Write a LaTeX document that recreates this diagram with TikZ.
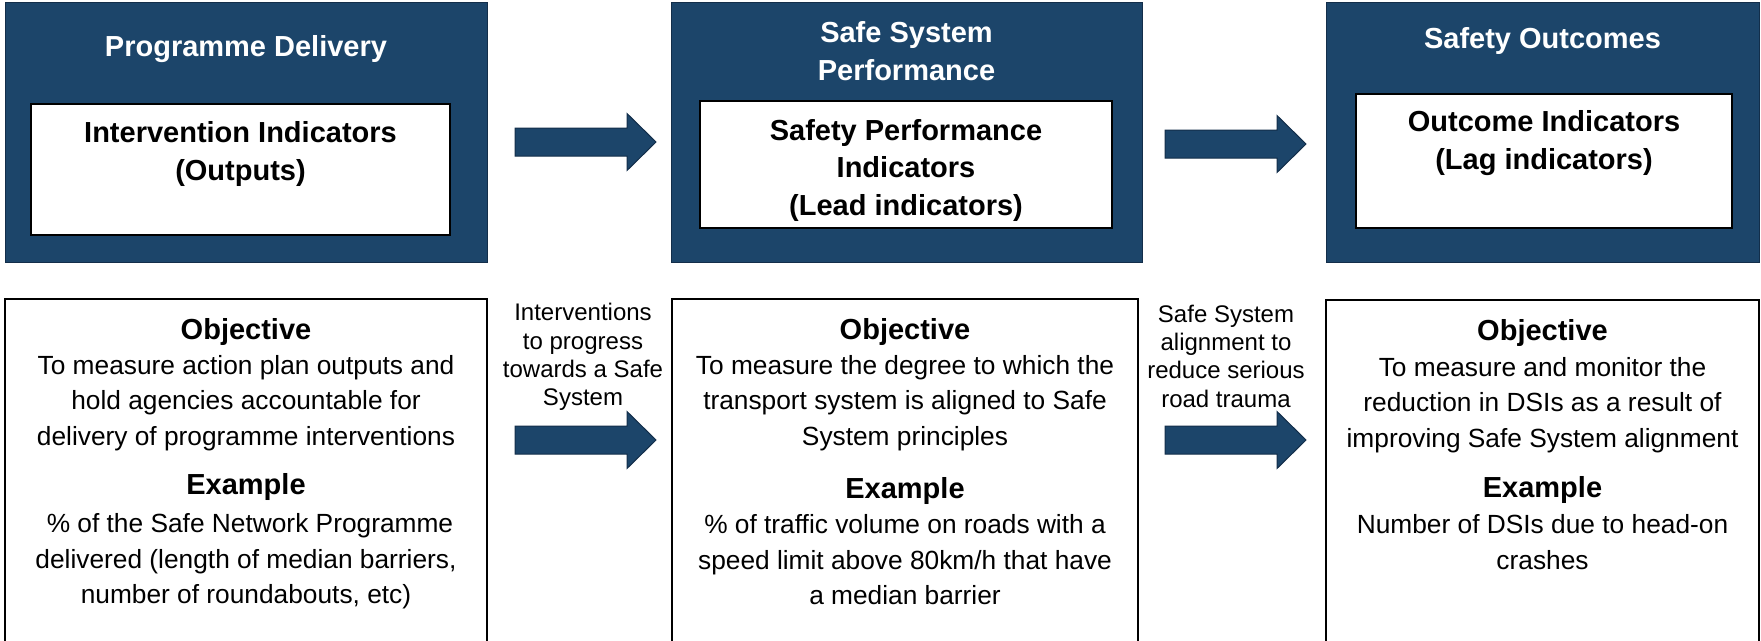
\documentclass[tikz,border=0pt]{standalone}
\usepackage{fontspec}
\setmainfont{Liberation Sans}
\usetikzlibrary{positioning}
\definecolor{navy}{RGB}{28,69,106}
\definecolor{navyedge}{RGB}{19,46,74}

\begin{document}
\begin{tikzpicture}[x=1pt,y=-1pt,
  headbox/.style={draw=navyedge, fill=navy, line width=1, inner sep=0},
  indbox/.style={draw=black, fill=white, line width=1.5, inner sep=0},
  objbox/.style={draw=black, line width=1.5, inner sep=0},
  headtext/.style={text=white, font=\bfseries\fontsize{29}{38}\selectfont, align=center, inner sep=0},
  indtext/.style={font=\bfseries\fontsize{29}{37.5}\selectfont, align=center, inner sep=0},
  subhead/.style={font=\bfseries\fontsize{29}{35}\selectfont, inner sep=0},
  bodytext/.style={font=\fontsize{26.3}{35.5}\selectfont, align=center, inner sep=0},
  steptext/.style={font=\fontsize{24}{28.3}\selectfont, align=center, inner sep=0},
  arrowfill/.style={fill=navy, draw=navyedge, line width=1}]
\useasboundingbox (0,0) rectangle (1761,640);

% top row
\node[headbox, minimum width=482, minimum height=260] (pd) at (246,132) {};
\node[headtext] (pdt) at (246,49) {Programme Delivery};
\node[indbox, minimum width=419, minimum height=131] (pdi) at (240.5,169.5) {};
\node[indtext] (pdit) at (240.5,154) {Intervention Indicators\\(Outputs)};

\node[headbox, minimum width=471, minimum height=260] (ssp) at (906.5,132) {};
\node[headtext] (sspt) at (906.5,51) {Safe System\\Performance};
\node[indbox, minimum width=412, minimum height=127] (sspi) at (906,164.5) {};
\node[indtext] (sspit) at (906,170) {Safety Performance\\Indicators\\(Lead indicators)};

\node[headbox, minimum width=433, minimum height=260] (so) at (1542.5,132) {};
\node[headtext] (sot) at (1542.5,41) {Safety Outcomes};
\node[indbox, minimum width=376, minimum height=134] (soi) at (1544,161) {};
\node[indtext] (soit) at (1544,143) {Outcome Indicators\\(Lag indicators)};

% block arrows
\coordinate (ta1) at (515,142);
\coordinate (ta2) at (1165,144);
\coordinate (ba1) at (515,440);
\coordinate (ba2) at (1165,440);
\draw[arrowfill] (ta1) ++(0,-14) -- ++(112,0) -- ++(0,-14.5) -- ++(29,28.5) -- ++(-29,28.5) -- ++(0,-14.5) -- ++(-112,0) -- cycle;
\draw[arrowfill] (ta2) ++(0,-14) -- ++(112,0) -- ++(0,-14.5) -- ++(29,28.5) -- ++(-29,28.5) -- ++(0,-14.5) -- ++(-112,0) -- cycle;
\draw[arrowfill] (ba1) ++(0,-14) -- ++(112,0) -- ++(0,-14.5) -- ++(29,28.5) -- ++(-29,28.5) -- ++(0,-14.5) -- ++(-112,0) -- cycle;
\draw[arrowfill] (ba2) ++(0,-14) -- ++(112,0) -- ++(0,-14.5) -- ++(29,28.5) -- ++(-29,28.5) -- ++(0,-14.5) -- ++(-112,0) -- cycle;

\node[steptext] (lab1) at (583,357) {Interventions\\to progress\\towards a Safe\\System};
\node[steptext] (lab2) at (1226,356) {Safe System\\alignment to\\reduce serious\\road trauma};

% bottom row
\node[objbox, minimum width=482, minimum height=421] (pdo) at (246,509.5) {};
\node[subhead] (pdh1) at (246,332) {Objective};
\node[bodytext] (pdb1) at (246,403) {To measure action plan outputs and\\hold agencies accountable for\\delivery of programme interventions};
\node[subhead] (pdh2) at (246,486.5) {Example};
\node[bodytext] (pdb2) at (246,561.5) {\hspace*{0.3em}\% of the Safe Network Programme\\delivered (length of median barriers,\\number of roundabouts, etc)};

\node[objbox, minimum width=466, minimum height=421] (sspo) at (905,509.5) {};
\node[subhead] (ssph1) at (905,332) {Objective};
\node[bodytext] (sspb1) at (905,403) {To measure the degree to which the\\transport system is aligned to Safe\\System principles};
\node[subhead] (ssph2) at (905,490.5) {Example};
\node[bodytext] (sspb2) at (905,560) {\% of traffic volume on roads with a\\speed limit above 80km/h that have\\a median barrier};

\node[objbox, minimum width=433, minimum height=421] (soo) at (1542.5,510.5) {};
\node[subhead] (soh1) at (1542.5,333) {Objective};
\node[bodytext] (sob1) at (1542.5,405) {To measure and monitor the\\reduction in DSIs as a result of\\improving Safe System alignment};
\node[subhead] (soh2) at (1542.5,489.5) {Example};
\node[bodytext] (sob2) at (1542.5,542) {Number of DSIs due to head-on\\crashes};
\end{tikzpicture}
\end{document}
